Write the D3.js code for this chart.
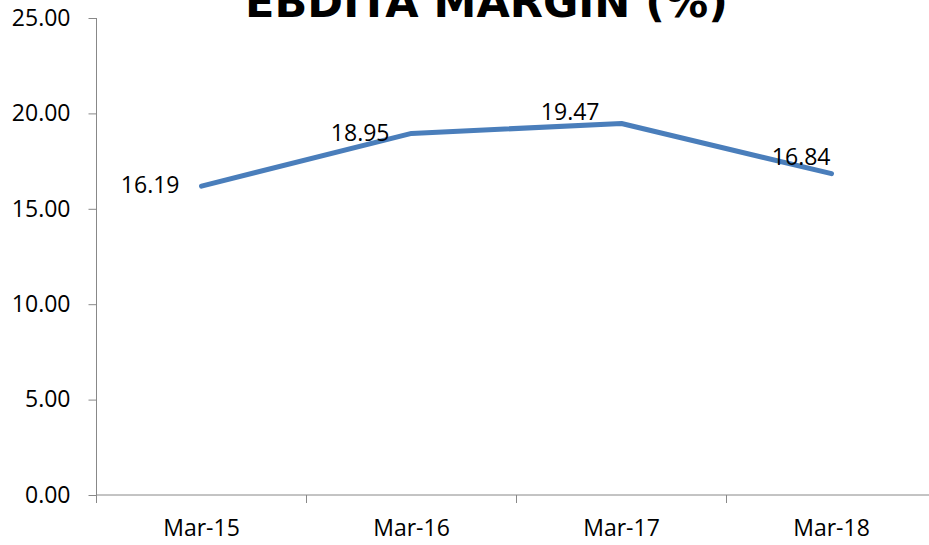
<!DOCTYPE html>
<html>
<head>
<meta charset="utf-8">
<script src="https://cdn.jsdelivr.net/npm/d3@7"></script>
<style>
  body { margin: 0; background: #fff; }
  svg { display: block; font-family: "Open Sans", sans-serif; }
</style>
</head>
<body>
<svg id="chart"></svg>
<script>
// chart data
const categories = ["Mar-15", "Mar-16", "Mar-17", "Mar-18"];
const margins = [16.19, 18.95, 19.47, 16.84];
const yTicks = [0, 5, 10, 15, 20, 25];

// label nudges (dx, dy) from each point
const labelNudge = [[-22, -1], [-22, 0], [-22, -12], [-1, -17]];

const width = 929, height = 545;
const plot = {left: 96.5, right: 936.5, top: 18, bottom: 495};

const svg = d3.select("#chart")
    .attr("width", width)
    .attr("height", height);

const x = d3.scaleBand()
    .domain(categories)
    .range([plot.left, plot.right])
    .padding(0);

const y = d3.scaleLinear()
    .domain([0, 25])
    .range([plot.bottom, plot.top]);

const axisColor = "#888";

// y axis
const yAxis = svg.append("g")
    .attr("transform", `translate(${plot.left},0)`)
    .call(d3.axisLeft(y).tickValues(yTicks).tickSize(8).tickPadding(18).tickFormat(d3.format(".2f")));
yAxis.select(".domain").attr("stroke", axisColor).attr("d", `M0,${plot.top}V${plot.bottom}`);
yAxis.selectAll(".tick line").attr("stroke", axisColor);
yAxis.selectAll(".tick text")
    .attr("font-size", 23)
    .attr("font-family", "Open Sans")
    .attr("fill", "#000");

// x axis
const xAxis = svg.append("g")
    .attr("transform", `translate(0,${plot.bottom})`)
    .call(d3.axisBottom(x).tickSize(0).tickPadding(25));
xAxis.select(".domain").attr("stroke", axisColor).attr("d", `M${plot.left},0H${width}`);
xAxis.selectAll(".tick text")
    .attr("font-size", 23)
    .attr("font-family", "Open Sans")
    .attr("fill", "#000");

// category boundary ticks
svg.append("g").selectAll("line")
    .data(categories)
    .join("line")
    .attr("x1", d => x(d))
    .attr("x2", d => x(d))
    .attr("y1", plot.bottom)
    .attr("y2", plot.bottom + 8)
    .attr("stroke", axisColor);

// line
const line = d3.line()
    .x((d, i) => x(categories[i]) + x.bandwidth() / 2)
    .y(d => y(d));

svg.append("path")
    .datum(margins)
    .attr("fill", "none")
    .attr("stroke", "#4a7ebb")
    .attr("stroke-width", 5)
    .attr("stroke-linejoin", "round")
    .attr("stroke-linecap", "round")
    .attr("d", line);

// data labels
svg.append("g").selectAll("text")
    .data(margins)
    .join("text")
    .attr("x", (d, i) => x(categories[i]) + x.bandwidth() / 2 + labelNudge[i][0])
    .attr("y", (d, i) => y(d) + labelNudge[i][1])
    .attr("dy", "0.35em")
    .attr("text-anchor", "end")
    .attr("font-size", 23)
    .attr("fill", "#000")
    .text(d => d.toFixed(2));

// title (clipped at the top, as in the original)
const title = svg.append("text")
    .attr("x", 486.5)
    .attr("y", 17)
    .attr("text-anchor", "middle")
    .attr("font-family", "DejaVu Sans")
    .attr("font-size", 40)
    .attr("font-weight", "bold")
    .attr("fill", "#000")
    .text("EBDITA MARGIN (%)");
const tw = title.node().getComputedTextLength();
title.attr("font-size", 40 * 483 / tw);
</script>
</body>
</html>
